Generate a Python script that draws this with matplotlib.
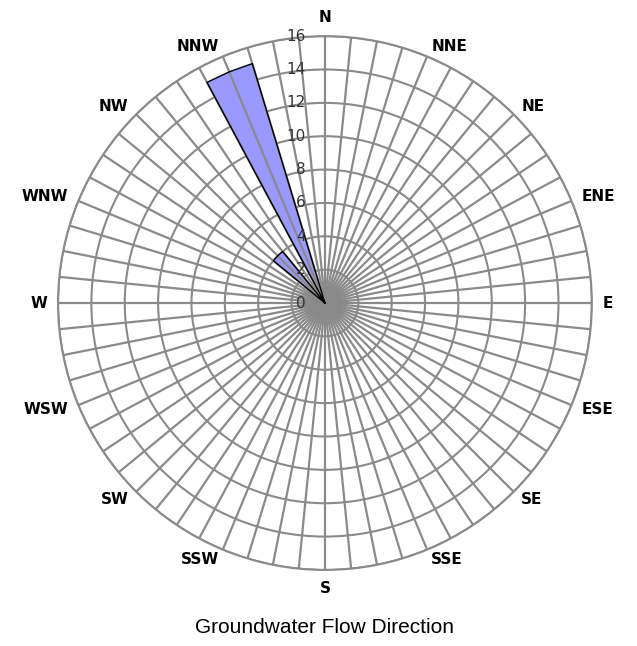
import numpy as np
import matplotlib.pyplot as plt

# 64 direction bins (5.625 deg each), clockwise from north
n_dirs = 64
compass = ['N', 'NNE', 'NE', 'ENE', 'E', 'ESE', 'SE', 'SSE',
           'S', 'SSW', 'SW', 'WSW', 'W', 'WNW', 'NW', 'NNW']
# values per bin
flow = [0, 0, 0, 0, 0, 0, 0, 0,
        0, 0, 0, 0, 0, 0, 0, 0,
        0, 0, 0, 0, 0, 0, 0, 0,
        0, 0, 0, 0, 0, 0, 0, 0,
        0, 0, 0, 0, 0, 0, 0, 0,
        0, 0, 0, 0, 0, 0, 0, 0,
        0, 0, 0, 0, 0, 0, 0, 4,
        4, 4, 0, 15, 15, 15, 0, 0]
rings = [0, 2, 4, 6, 8, 10, 12, 14, 16]
title = "Groundwater Flow Direction"

grid_col = '#8a8a8a'

fig = plt.figure(figsize=(6.37, 6.46), dpi=100)
ax = fig.add_axes([0.0911, 0.1176, 0.838, 0.8266], projection='polar')
ax.set_theta_zero_location('N')
ax.set_theta_direction(-1)
ax.set_ylim(0, rings[-1])

theta = np.deg2rad(np.arange(n_dirs) * 360.0 / n_dirs)

# rings below the fill
ax.set_rgrids(rings[1:], labels=[''] * (len(rings) - 1))
ax.yaxis.grid(True, color=grid_col, linewidth=1.5, zorder=0)
ax.xaxis.grid(False)
ax.set_xticks(theta)
ax.set_xticklabels([])
ax.set_axisbelow(True)

# filled radar polygon
th_c = np.append(theta, theta[0])
fl_c = np.append(flow, flow[0])
ax.fill(th_c, fl_c, color='#9999ff', zorder=2, linewidth=0)

# spokes on top of the fill
ax.vlines(theta, 0, rings[-1], colors=grid_col, linewidth=1.6, zorder=3)
ax.plot(th_c, fl_c, color='black', linewidth=1.0, zorder=4)

ax.spines['polar'].set_color(grid_col)
ax.spines['polar'].set_linewidth(1.5)

# compass labels, anchored on the side facing the circle
for k, name in enumerate(compass):
    ang = np.deg2rad(k * 22.5)
    sx, cy = np.sin(ang), np.cos(ang)
    ha = 'left' if sx > 0.01 else ('right' if sx < -0.01 else 'center')
    va = 'center'
    if abs(sx) < 0.01:
        va = 'bottom' if cy > 0 else 'top'
    ax.text(ang, rings[-1] * 1.04, name, ha=ha, va=va, fontsize=11,
            fontweight='bold', clip_on=False)

# ring value labels left of the north spoke
for r in rings:
    ax.annotate(str(r), xy=(0, r), xytext=(-14, 0), textcoords='offset points',
                ha='right', va='center', fontsize=11, color='#333333',
                zorder=5)

fig.text(0.51, 0.028, title, ha='center', va='center', fontsize=15,
         family='Liberation Sans')

fig.savefig('out.png', dpi=100)
